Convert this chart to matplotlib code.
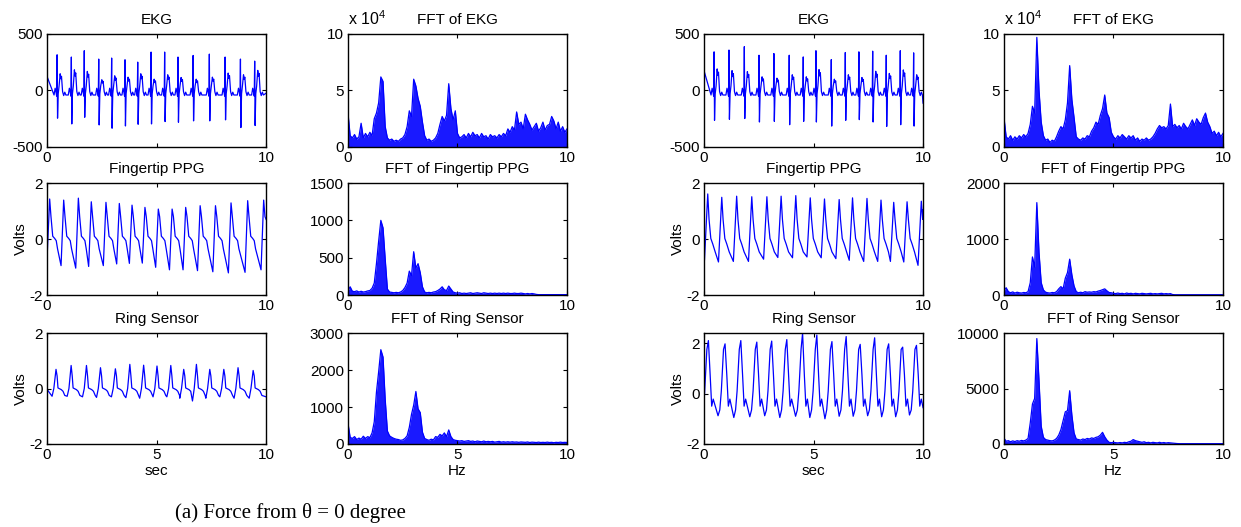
import matplotlib
matplotlib.use("Agg")
import matplotlib.pyplot as plt
import numpy as np

plt.rcParams['font.family'] = ['Liberation Sans', 'DejaVu Sans']
plt.rcParams['mathtext.default'] = 'regular'

BLUE = '#0000ff'

# ---------------- time signals (read beat by beat from the picture) ----------------
# EKG: R-peak times, R heights, S depths, T-wave heights
ekg_a_t = [0.46, 1.11, 1.70, 2.36, 2.95, 3.56, 4.14, 4.75, 5.37, 5.98, 6.67, 7.41, 8.13, 8.83, 9.48]
ekg_a_r = [316, 296, 352, 278, 287, 272, 251, 340, 340, 296, 310, 322, 296, 278, 260]
ekg_a_s = [-245, -296, -237, -305, -334, -314, -299, -296, -275, -281, -269, -269, -260, -328, -310]
ekg_a_tw = [148, 183, 169, 95, 130, 118, 148, 100, 139, 115, 100, 118, 154, 139, 178]
ekg_a_ends = [124, -24]

ekg_b_t = [0.46, 1.14, 1.84, 2.51, 3.19, 3.89, 4.53, 5.11, 5.81, 6.45, 7.07, 7.70, 8.32, 8.96, 9.57]
ekg_b_r = [342, 358, 388, 312, 327, 312, 297, 352, 273, 336, 342, 348, 312, 352, 333]
ekg_b_s = [-264, -255, -248, -279, -273, -303, -273, -279, -315, -264, -258, -279, -318, -303, -315]
ekg_b_tw = [191, 176, 167, 121, 109, 139, 121, 185, 100, 139, 115, 170, 151, 182, 139]
ekg_b_ends = [175, -112]

# PPG / ring sensor: peak times, peak values, trough before each peak
ppg_a_t = [0.12, 0.76, 1.43, 2.02, 2.69, 3.30, 3.88, 4.47, 5.08, 5.71, 6.33, 6.99, 7.69, 8.40, 9.16, 9.89]
ppg_a_p = [1.43, 1.39, 1.46, 1.33, 1.31, 1.27, 1.21, 1.13, 1.07, 1.07, 1.13, 1.19, 1.19, 1.29, 1.37, 1.39]
ppg_a_q = [-0.70, -0.95, -1.04, -0.98, -0.95, -0.89, -0.87, -0.86, -1.01, -1.10, -1.10, -1.13, -1.17, -1.21, -1.19, -1.10]
ppg_a_ends = [-0.70, 0.70]

ppg_b_t = [0.17, 0.81, 1.49, 2.18, 2.87, 3.52, 4.19, 4.85, 5.50, 6.17, 6.78, 7.44, 8.08, 8.66, 9.27, 9.92]
ppg_b_p = [1.61, 1.49, 1.53, 1.51, 1.51, 1.53, 1.55, 1.47, 1.43, 1.41, 1.47, 1.45, 1.39, 1.31, 1.33, 1.35]
ppg_b_q = [-0.76, -0.82, -0.80, -0.80, -0.72, -0.66, -0.67, -0.64, -0.67, -0.70, -0.76, -0.80, -0.80, -0.80, -0.82, -0.94]
ppg_b_ends = [-0.76, 1.05]

ring_a_t = [0.41, 1.10, 1.80, 2.44, 3.12, 3.78, 4.41, 5.02, 5.65, 6.24, 6.82, 7.43, 8.07, 8.72, 9.41]
ring_a_p = [0.69, 0.83, 0.83, 0.75, 0.71, 0.87, 0.84, 0.81, 0.83, 0.69, 0.87, 0.69, 0.69, 0.75, 0.65]
ring_a_q = [-0.28, -0.28, -0.30, -0.32, -0.30, -0.33, -0.35, -0.30, -0.30, -0.35, -0.45, -0.35, -0.30, -0.35, -0.35]
ring_a_ends = [-0.03, -0.30]

ring_b_t = [0.20, 0.96, 1.68, 2.41, 3.09, 3.78, 4.50, 5.15, 5.84, 6.49, 7.13, 7.79, 8.43, 9.07, 9.70]
ring_b_p = [2.10, 1.97, 2.10, 2.04, 2.08, 2.14, 2.40, 2.32, 2.06, 2.26, 1.95, 2.21, 1.97, 1.84, 1.91]
ring_b_q = [-0.34, -0.88, -0.95, -0.92, -0.88, -0.95, -0.90, -0.95, -1.00, -0.90, -0.90, -0.88, -0.92, -0.92, -0.85]
ring_b_ends = [-0.34, -0.56]

# ---------------- spectra, sampled every 0.1 Hz from 0 to 10 Hz ----------------
fft_freq = np.round(np.arange(0, 10.001, 0.1), 1)

fft_ekg_a = [3.0, 1.0, 0.8, 1.1, 0.7, 0.9, 2.1, 0.8, 1.2, 0.9,
             1.3, 1.0, 2.5, 3.0, 3.9, 6.2, 5.8, 1.8, 0.8, 0.6,
             0.7, 0.5, 0.6, 0.5, 0.7, 0.8, 1.1, 1.8, 3.2, 2.7,
             6.0, 5.4, 4.3, 3.6, 2.2, 1.0, 0.6, 0.7, 0.5, 0.6,
             0.8, 1.2, 2.0, 2.7, 2.3, 2.8, 5.6, 3.4, 2.4, 3.2,
             1.2, 0.8, 0.9, 1.1, 0.8, 1.2, 0.9, 1.3, 1.0, 1.1,
             0.8, 1.2, 0.9, 1.0, 0.7, 1.1, 0.9, 1.0, 0.8, 1.1,
             0.9, 1.2, 1.0, 1.6, 1.3, 1.8, 1.5, 3.1, 2.0, 2.2,
             1.6, 2.9, 2.4, 2.0, 1.5, 1.8, 2.1, 1.4, 1.7, 2.2,
             1.5, 1.9, 2.0, 2.7, 2.3, 1.6, 2.2, 1.4, 1.8, 1.3,
             1.6]  # x 10^4
fft_ekg_b = [2.6, 0.9, 0.7, 1.0, 0.6, 0.9, 0.7, 1.0, 0.8, 1.1,
             0.9, 1.2, 2.0, 3.6, 3.0, 9.7, 5.0, 2.2, 1.0, 0.6,
             0.7, 0.4, 0.6, 0.5, 0.9, 1.4, 1.8, 1.6, 2.4, 3.9,
             7.2, 4.2, 2.6, 0.9, 0.7, 0.6, 0.8, 0.7, 1.0, 0.9,
             1.4, 1.7, 2.2, 2.0, 2.8, 3.4, 4.6, 3.0, 2.6, 1.3,
             0.9, 0.7, 1.0, 0.8, 1.1, 0.9, 0.7, 1.0, 0.8, 1.0,
             0.6, 0.8, 0.5, 0.7, 0.6, 0.8, 0.6, 0.7, 0.9, 1.2,
             1.6, 1.9, 1.7, 1.8, 1.6, 1.9, 3.8, 1.8, 2.0, 1.7,
             1.9, 1.6, 2.1, 1.8, 1.6, 2.0, 2.4, 1.9, 2.5, 2.2,
             2.0, 2.6, 3.0, 2.2, 1.8, 1.2, 1.4, 1.0, 1.3, 0.9,
             1.2]  # x 10^4
fft_ppg_a = [60, 110, 50, 45, 55, 40, 50, 40, 45, 55,
             60, 90, 160, 420, 720, 1000, 900, 480, 80, 40,
             35, 30, 35, 30, 40, 60, 100, 160, 320, 260,
             580, 360, 420, 300, 110, 40, 30, 35, 30, 40,
             45, 60, 80, 110, 70, 60, 120, 80, 40, 30,
             25, 30, 20, 25, 20, 25, 30, 20, 25, 30,
             25, 20, 30, 25, 20, 25, 20, 25, 20, 25,
             20, 25, 20, 25, 20, 20, 25, 20, 20, 25,
             20, 15, 20, 15, 20, 15, 8, 5, 5, 5,
             5, 5, 5, 5, 5, 5, 5, 5, 5, 5,
             5]
fft_ppg_b = [80, 130, 60, 40, 55, 35, 50, 40, 35, 45,
             40, 60, 220, 680, 500, 1650, 760, 220, 90, 50,
             40, 35, 45, 40, 60, 110, 150, 110, 300, 400,
             640, 360, 160, 60, 40, 50, 40, 60, 50, 55,
             50, 60, 55, 70, 80, 95, 110, 75, 45, 40,
             30, 25, 35, 25, 30, 20, 35, 25, 30, 20,
             30, 25, 20, 30, 25, 20, 25, 30, 20, 25,
             20, 25, 30, 20, 25, 20, 25, 8, 5, 5,
             5, 5, 5, 5, 5, 5, 5, 5, 5, 5,
             5, 5, 5, 5, 5, 5, 5, 5, 5, 5,
             5]
fft_ring_a = [560, 180, 150, 200, 120, 160, 130, 210, 150, 200,
              170, 300, 600, 1400, 1950, 2550, 2350, 1200, 350, 220,
              180, 150, 130, 120, 100, 110, 150, 220, 450, 800,
              1050, 1420, 950, 850, 320, 150, 120, 100, 130, 110,
              200, 180, 260, 220, 300, 200, 380, 200, 120, 100,
              90, 80, 90, 70, 80, 90, 70, 80, 60, 80,
              70, 60, 80, 60, 70, 60, 70, 50, 60, 70,
              50, 60, 50, 60, 50, 60, 50, 55, 45, 55,
              50, 45, 55, 40, 50, 45, 40, 50, 40, 45,
              40, 50, 40, 45, 35, 45, 40, 50, 40, 45,
              40]
fft_ring_b = [520, 250, 300, 200, 280, 220, 300, 250, 320, 280,
              350, 500, 1900, 3600, 4100, 9500, 5700, 1600, 600, 400,
              350, 300, 280, 350, 500, 800, 1300, 2100, 2900, 3000,
              4800, 2600, 1000, 450, 400, 350, 450, 400, 500, 450,
              550, 500, 600, 650, 800, 1050, 650, 350, 150, 120,
              150, 120, 100, 130, 100, 150, 120, 200, 250, 400,
              300, 250, 200, 150, 200, 120, 150, 100, 150, 120,
              100, 150, 100, 130, 90, 120, 100, 80, 60, 40,
              30, 30, 30, 30, 30, 30, 30, 30, 30, 30,
              30, 30, 30, 30, 30, 30, 30, 30, 30, 30,
              30]


def ekg_trace(r_t, r_v, s_v, t_v, ends):
    # one QRS-T complex per beat, small baseline wiggles between beats
    pre = [(-0.14, -40), (-0.09, 20), (-0.05, -15), (-0.02, -50)]
    ts, vs = [0.0], [ends[0]]
    for i, (tr, pr, ps, pt) in enumerate(zip(r_t, r_v, s_v, t_v)):
        for dt, v in pre:
            if tr + dt > ts[-1]:
                ts.append(tr + dt); vs.append(v)
        nxt = r_t[i + 1] - 0.14 if i + 1 < len(r_t) else 10.0
        post = [(0.0, pr), (0.02, ps), (0.05, -30), (0.09, 40), (0.14, pt),
                (0.17, 0.7 * pt), (0.2, 0.85 * pt), (0.25, -10), (0.3, -45),
                (0.35, -15), (0.4, -40)]
        for dt, v in post:
            if tr + dt < nxt:
                ts.append(tr + dt); vs.append(v)
    ts.append(10.0); vs.append(ends[1])
    return ts, vs


def pulse_trace(p_t, p_v, q_v, ends, lead, before, after):
    ts, vs = [0.0], [ends[0]]
    for i, (tp, vp, vq) in enumerate(zip(p_t, p_v, q_v)):
        if tp - lead > ts[-1]:
            ts.append(tp - lead); vs.append(vq)
        for dt, v in before:
            if tp - dt > ts[-1]:
                ts.append(tp - dt); vs.append(v)
        ts.append(tp); vs.append(vp)
        nxt = p_t[i + 1] - lead if i + 1 < len(p_t) else 10.0
        for dt, v in after:
            if tp + dt < nxt:
                ts.append(tp + dt); vs.append(v)
    ts.append(10.0); vs.append(ends[1])
    return ts, vs


FS = 11


def style(ax, ylim, yticks, ylabels, row):
    ax.set_xlim(0, 10)
    ax.set_ylim(*ylim)
    ax.set_xticks([0, 5, 10])
    ax.set_xticklabels(['0', '5', '10'] if row == 2 else ['0', '', '10'])
    ax.set_yticks(yticks)
    ax.set_yticklabels(ylabels)
    ax.tick_params(direction='in', top=True, right=True, length=3, width=0.8,
                   labelsize=FS, pad=3)
    for sp in ax.spines.values():
        sp.set_linewidth(1.0)


fig = plt.figure(figsize=(12.41, 5.27), dpi=100)

col_left = [0.0379, 0.2804, 0.5673, 0.8090]
col_w = 0.1765
row_bottom = [0.7211, 0.4402, 0.1575]
row_h = [0.2144, 0.2125, 0.2106]


def make_ax(col, row):
    return fig.add_axes([col_left[col], row_bottom[row], col_w, row_h[row]])


groups = [
    (0, (ekg_a_t, ekg_a_r, ekg_a_s, ekg_a_tw, ekg_a_ends),
     (ppg_a_t, ppg_a_p, ppg_a_q, ppg_a_ends), (ring_a_t, ring_a_p, ring_a_q, ring_a_ends),
     fft_ekg_a, fft_ppg_a, fft_ring_a),
    (2, (ekg_b_t, ekg_b_r, ekg_b_s, ekg_b_tw, ekg_b_ends),
     (ppg_b_t, ppg_b_p, ppg_b_q, ppg_b_ends), (ring_b_t, ring_b_p, ring_b_q, ring_b_ends),
     fft_ekg_b, fft_ppg_b, fft_ring_b),
]

for c0, ekg, ppg, ring, f_ekg, f_ppg, f_ring in groups:
    right = c0 == 2

    # EKG
    ax = make_ax(c0, 0)
    t, v = ekg_trace(*ekg)
    ax.plot(t, v, color=BLUE, lw=0.9)
    style(ax, (-500, 500), [-500, 0, 500], ['-500', '0', '500'], 0)
    ax.set_title('EKG', fontsize=FS, pad=7)

    # PPG
    ax = make_ax(c0, 1)
    if right:
        t, v = pulse_trace(*ppg, lead=0.15, before=[],
                           after=[(0.06, 0.7), (0.14, 0.02), (0.23, -0.18), (0.34, -0.46)])
    else:
        t, v = pulse_trace(*ppg, lead=0.12, before=[],
                           after=[(0.06, 0.8), (0.14, 0.1), (0.23, 0.02), (0.3, -0.06), (0.36, -0.35)])
    ax.plot(t, v, color=BLUE, lw=0.9)
    style(ax, (-2, 2), [-2, 0, 2], ['-2', '0', '2'], 1)
    ax.set_title('Fingertip PPG', fontsize=FS, pad=7)
    ax.set_ylabel('Volts', fontsize=FS, labelpad=1)

    # ring sensor
    ax = make_ax(c0, 2)
    if right:
        t, v = pulse_trace(*ring, lead=0.32, before=[(0.24, -0.65), (0.17, 0.1), (0.07, 1.75)],
                           after=[(0.08, 0.74), (0.15, -0.5), (0.22, -0.22)])
        ylim = (-2, 2.4)
    else:
        t, v = pulse_trace(*ring, lead=0.18, before=[(0.1, 0.0)],
                           after=[(0.05, 0.45), (0.09, 0.02), (0.17, -0.01), (0.24, -0.04),
                                  (0.32, -0.1), (0.4, -0.25)])
        ylim = (-2, 2)
    ax.plot(t, v, color=BLUE, lw=0.9)
    style(ax, ylim, [-2, 0, 2], ['-2', '0', '2'], 2)
    ax.set_title('Ring Sensor', fontsize=FS, pad=7)
    ax.set_ylabel('Volts', fontsize=FS, labelpad=1)
    ax.set_xlabel('sec', fontsize=FS, labelpad=1)

    # spectra
    ffts = [
        ('FFT of EKG', f_ekg, (0, 10), [0, 5, 10]),
        ('FFT of Fingertip PPG', f_ppg, (0, 2000) if right else (0, 1500),
         [0, 1000, 2000] if right else [0, 500, 1000, 1500]),
        ('FFT of Ring Sensor', f_ring, (0, 10000) if right else (0, 3000),
         [0, 5000, 10000] if right else [0, 1000, 2000, 3000]),
    ]
    for row, (title, spec, ylim, yt) in enumerate(ffts):
        ax = make_ax(c0 + 1, row)
        ax.fill_between(fft_freq, 0, spec, color=BLUE, alpha=0.9, lw=0)
        ax.plot(fft_freq, spec, color=BLUE, lw=0.9)
        style(ax, ylim, yt, [str(y) for y in yt], row)
        ax.set_title(title, fontsize=FS, pad=7)
        if row == 0:
            ax.text(0.0, 1.05, 'x 10$^4$', transform=ax.transAxes, ha='left',
                    va='bottom', fontsize=11.5)
        if row == 2:
            ax.set_xlabel('Hz', fontsize=FS, labelpad=1)

fig.text(0.141, 0.017, '(a) Force from \u03b8 = 0 degree', family='Liberation Serif',
         fontsize=15, va='baseline')

fig.savefig('out.png', dpi=100)
